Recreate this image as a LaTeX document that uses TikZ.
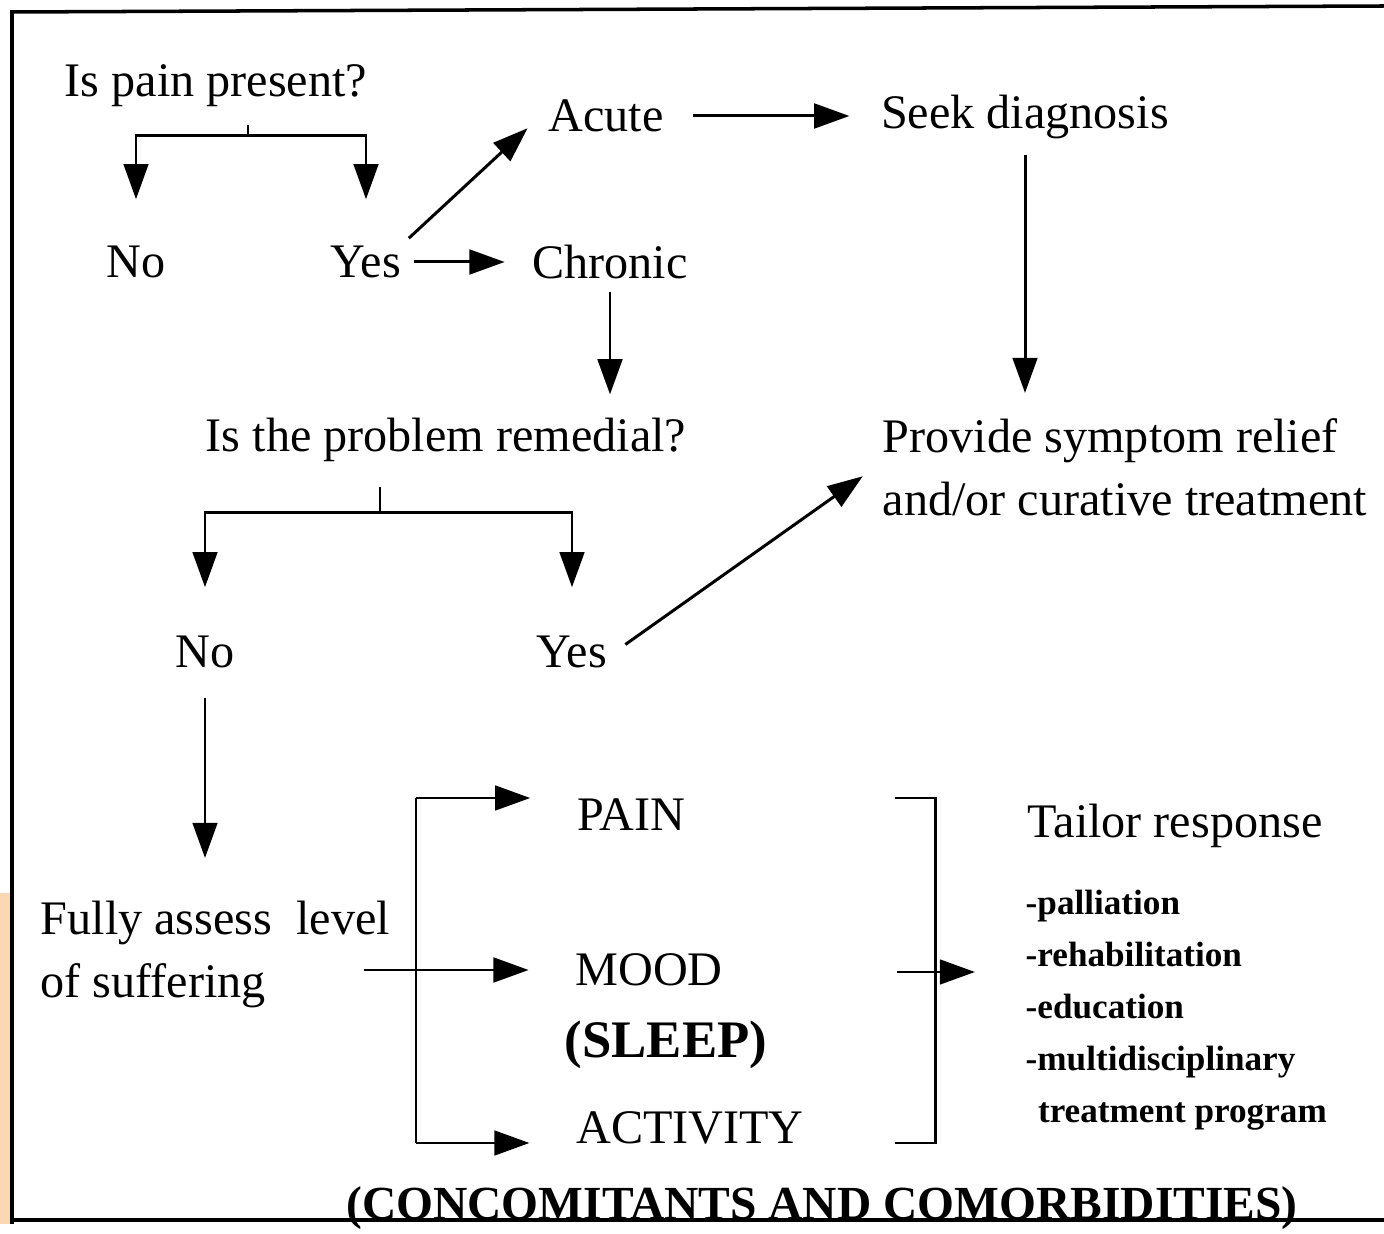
\documentclass[tikz,border=0pt]{standalone}
\usepackage{fontspec}
\setmainfont{Liberation Serif}
\usepackage{xcolor}
\usepackage{tikz}
\usetikzlibrary{arrows.meta, positioning, calc}

\definecolor{peach}{RGB}{251,215,180}

\begin{document}
\begin{tikzpicture}[
    x=0.01cm, y=-0.01cm,
    txt/.style={
        inner sep=2pt, align=left,
        font=\fontsize{13.7}{18}\selectfont
    },
    boldcap/.style={
        inner sep=2pt,
        font=\fontsize{15}{18}\selectfont\bfseries
    },
    listtxt/.style={
        inner sep=2pt, align=left,
        font=\fontsize{10}{14.8}\selectfont\bfseries
    },
    link/.style={line width=0.85pt},
    arr/.style={link, -{Triangle[length=10pt, width=7pt]}},
    frame/.style={line width=1pt}
]
\useasboundingbox (0,0) rectangle (1384,1234);

% Frame
\fill[peach] (0,893) rectangle (10,1224);
\draw[frame] (12,1224) -- (12,12) -- (1384,6);
\draw[frame] (12,1220) -- (1384,1220);

% First question
\node[txt] (pain) at (216,86) {Is pain present?};
\node[txt] (painno) at (136,262) {No};
\node[txt] (painyes) at (366,262) {Yes};
\node[txt] (acute) at (606,116) {Acute};
\node[txt] (chronic) at (610,262) {Chronic};
\node[txt] (seek) at (1025,117) {Seek diagnosis};

% Second question
\node[txt] (remedial) at (446,440) {Is the problem remedial?};
\node[txt] (remno) at (205,652) {No};
\node[txt] (remyes) at (572,652) {Yes};
\node[txt, anchor=north west] (relief) at (875,411) {
    Provide symptom relief\\
    and/or curative treatment
};

% Assessment
\node[txt, anchor=north west] (assess) at (33,893) {
    Fully assess\ \ level\\
    of suffering
};
\node[txt] (painlvl) at (631,815) {PAIN};
\node[txt] (mood) at (649,970) {MOOD};
\node[boldcap] (sleep) at (666,1045) {(SLEEP)};
\node[txt] (activity) at (690,1128) {ACTIVITY};

% Response
\node[txt] (tailor) at (1175,826) {Tailor response};
\node[listtxt, anchor=north west] (options) at (1018,882) {
    -palliation\\
    -rehabilitation\\
    -education\\
    -multidisciplinary\\
    \hspace*{3.5pt}treatment program
};
\node[boldcap, font=\fontsize{13.5}{16}\selectfont\bfseries] (comorb) at (822,1208)
    {(CONCOMITANTS AND COMORBIDITIES)};

% Relationships
\coordinate (painfork) at (248,136);
\draw[link, shorten <=0.1cm] (pain.south -| painfork) -- (painfork);
\draw[arr, shorten >=0.39cm] (painfork) -| (painno);
\draw[arr, shorten >=0.39cm] (painfork) -| (painyes);
\draw[arr, shorten >=0.18cm] (painyes.north east) -- (acute.west);
\draw[arr, shorten <=0.05cm, shorten >=0.2cm] (painyes) -- (chronic);
\draw[arr, shorten <=0.22cm, shorten >=0.24cm] (acute.east) -- (acute.east -| seek.west);
\draw[arr, shorten <=0.08cm, shorten >=0.18cm] (seek.south) -- (seek.south |- relief.north);
\draw[arr, shorten <=0.05cm, shorten >=0.16cm] (chronic.south) -- (chronic.south |- remedial.north);

\coordinate (remfork) at (380,513);
\draw[link, shorten <=0.17cm] (remedial.south -| remfork) -- (remfork);
\draw[arr, shorten >=0.41cm] (remfork) -| (remno);
\draw[arr, shorten >=0.41cm] (remfork) -| (remyes);
\draw[arr, shorten <=0.13cm, shorten >=0.15cm] (remyes.east) -- (relief.west);
\draw[arr, shorten <=0.22cm, shorten >=0.35cm] (remno.south) -- (remno.south |- assess.north);

% Three measures
\coordinate (bustop) at (416,798);
\coordinate (busbot) at (416,1143);
\draw[link] (bustop) -- (busbot);
\draw[arr, shorten >=0.39cm] (bustop) -- (bustop -| painlvl.west);
\draw[arr, shorten <=-0.34cm, shorten >=0.39cm] (assess.east |- mood.west) -- (mood.west);
\draw[arr, shorten >=0.39cm] (busbot) -- (busbot -| activity.west);

% Bracket
\draw[link] (895,798) -- (935,798) -- (935,1143) -- (895,1143);
\coordinate (gather) at (897,972);
\draw[arr, shorten >=0.43cm] (gather) -- (gather -| options.west);

\end{tikzpicture}
\end{document}
